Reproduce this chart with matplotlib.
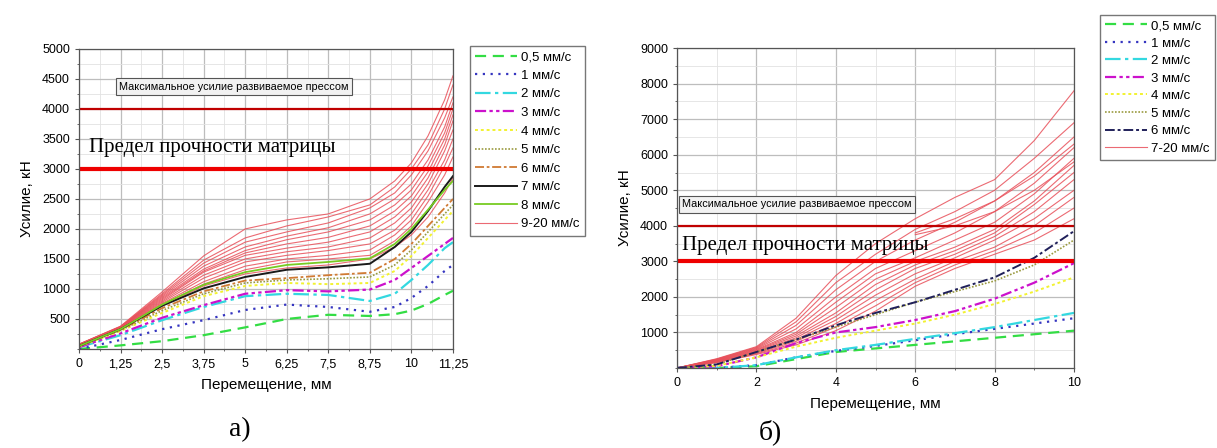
import numpy as np
import matplotlib.pyplot as plt
from matplotlib.ticker import MultipleLocator

plt.rcParams['font.family'] = ['Liberation Sans', 'DejaVu Sans']

# ---------- data, chart a) ----------
xa = [0, 1.25, 2.5, 3.75, 5, 6.25, 7.5, 8.75, 9.5, 10, 10.5, 11, 11.25]
a_05 = [0, 60, 130, 230, 360, 500, 570, 550, 580, 640, 750, 900, 970]
a_1 = [0, 150, 330, 480, 650, 740, 700, 620, 700, 850, 1050, 1300, 1400]
a_2 = [30, 230, 480, 700, 880, 920, 900, 800, 920, 1150, 1400, 1680, 1780]
a_3 = [30, 260, 520, 730, 920, 980, 960, 990, 1150, 1350, 1550, 1750, 1850]
a_4 = [40, 300, 600, 880, 1050, 1100, 1080, 1100, 1300, 1550, 1850, 2150, 2300]
a_5 = [40, 310, 640, 920, 1100, 1150, 1170, 1200, 1400, 1650, 1950, 2250, 2400]
a_6 = [50, 320, 680, 960, 1140, 1180, 1230, 1270, 1500, 1750, 2050, 2350, 2500]
a_7 = [50, 330, 720, 1010, 1200, 1320, 1360, 1420, 1700, 1950, 2300, 2700, 2880]
a_8 = [50, 330, 740, 1070, 1280, 1400, 1450, 1510, 1750, 2000, 2320, 2650, 2800]
a_red = [
    [60, 330, 720, 1050, 1250, 1350, 1400, 1500, 1700, 1900, 2200, 2600, 2850],
    [60, 340, 740, 1080, 1320, 1450, 1500, 1560, 1800, 2050, 2450, 2900, 3200],
    [65, 345, 760, 1120, 1380, 1500, 1560, 1650, 1900, 2150, 2550, 3050, 3350],
    [65, 350, 780, 1180, 1450, 1560, 1640, 1750, 1980, 2250, 2650, 3150, 3500],
    [70, 355, 800, 1230, 1500, 1620, 1700, 1850, 2100, 2350, 2750, 3300, 3650],
    [70, 360, 820, 1280, 1560, 1680, 1780, 1950, 2200, 2450, 2850, 3400, 3800],
    [70, 365, 840, 1300, 1600, 1750, 1860, 2050, 2300, 2550, 2950, 3500, 3900],
    [75, 365, 860, 1330, 1640, 1820, 1950, 2150, 2400, 2650, 3050, 3600, 4000],
    [75, 370, 880, 1380, 1700, 1880, 2020, 2250, 2500, 2750, 3150, 3700, 4100],
    [75, 370, 900, 1430, 1780, 1950, 2100, 2350, 2600, 2900, 3300, 3850, 4200],
    [80, 375, 920, 1480, 1850, 2050, 2200, 2400, 2700, 3000, 3400, 4000, 4400],
    [80, 380, 950, 1550, 2000, 2150, 2250, 2500, 2800, 3100, 3550, 4150, 4550],
]

# ---------- data, chart б) ----------
xb = [0, 1, 2, 3, 4, 5, 6, 7, 8, 9, 10]
b_05 = [0, 0, 50, 250, 450, 550, 650, 750, 850, 950, 1050]
b_1 = [0, 0, 80, 300, 480, 620, 780, 950, 1100, 1250, 1400]
b_2 = [0, 0, 80, 300, 500, 650, 820, 980, 1150, 1350, 1550]
b_3 = [0, 50, 300, 700, 1000, 1150, 1350, 1600, 1950, 2400, 2950]
b_4 = [0, 60, 300, 600, 850, 1050, 1250, 1500, 1800, 2150, 2550]
b_5 = [0, 100, 450, 800, 1150, 1500, 1850, 2150, 2450, 2900, 3600]
b_6 = [0, 100, 450, 800, 1200, 1550, 1850, 2200, 2550, 3100, 3850]
nan = np.nan
b_red = [
    [0, 260, 600, 1400, 2600, 3500, 4200, 4800, 5300, 6400, 7800],
    [0, 250, 580, 1300, 2400, 3200, 3900, 4400, 5000, 5900, 6900],
    [0, 240, 560, 1200, 2200, 3000, 3600, 4100, 4700, 5500, 6500],
    [0, 230, 540, 1100, 2000, 2800, 3300, 3800, 4400, 5200, 6200],
    [0, 220, 520, 1000, 1850, 2650, 3100, 3600, 4100, 4900, 5900],
    [0, 210, 500, 950, 1700, 2500, 3000, 3400, 3900, 4700, 5700],
    [0, 200, 480, 900, 1550, 2350, 2900, 3300, 3800, 4600, 5500],
    [0, 190, 460, 850, 1450, 2200, 2800, 3200, 3700, 4400, 5300],
    [0, 180, 440, 800, 1350, 2050, 2650, 3100, 3600, 4200, 5000],
    [0, 170, 420, 750, 1250, 1900, 2500, 3000, 3400, 4000, 4800],
    [0, 160, 400, 700, 1150, 1750, 2400, 2900, 3300, 3800, 4500],
    [0, 150, 380, 650, 1050, 1600, 2300, 2800, 3200, 3600, 4200],
    [nan, nan, nan, nan, nan, nan, 3800, 4200, 4700, 5400, 6300],
    [nan, nan, nan, nan, nan, nan, 3750, 4000, 4400, 5000, 5800],
]

# line styles for the speeds
green = dict(color='#33dd44', ls=(0, (5, 3)), lw=1.6)
blue = dict(color='#3535c0', ls=(0, (1, 2.5)), lw=1.6)
cyan = dict(color='#33d8e0', ls=(0, (7, 2, 1.5, 2)), lw=1.6)
magenta = dict(color='#cc11cc', ls=(0, (5, 1.5, 1.5, 1.5, 1.5, 1.5)), lw=1.6)
yellow = dict(color='#f2f230', ls=(0, (1.5, 1.5)), lw=1.4)
olive = dict(color='#9a9a40', ls=(0, (1, 1)), lw=1.2)
orange = dict(color='#d07a33', ls=(0, (5, 1.5, 1.5, 1.5)), lw=1.3)
navy = dict(color='#20205a', ls=(0, (5, 1.5, 1.5, 1.5)), lw=1.4)
black = dict(color='#1a1a1a', ls='-', lw=1.4)
lgreen = dict(color='#77cc22', ls='-', lw=1.3)
red = dict(color='#e8505a', ls='-', lw=0.8, alpha=0.85)

fig = plt.figure(figsize=(12.17, 4.48), dpi=100)


def style_axes(ax):
    ax.grid(which='major', color='#bdbdbd', lw=0.9)
    ax.grid(which='minor', color='#e2e2e2', lw=0.6)
    ax.set_axisbelow(True)
    for s in ax.spines.values():
        s.set_color('#555555')
        s.set_linewidth(0.9)
    ax.tick_params(which='major', labelsize=9, length=3, color='#555555')
    ax.tick_params(which='minor', length=1.5, color='#555555')


# ---------- chart a) ----------
ax1 = fig.add_axes([0.0649, 0.221, 0.3073, 0.670])
style_axes(ax1)
lines_a = [(a_05, green, '0,5 мм/с'), (a_1, blue, '1 мм/с'), (a_2, cyan, '2 мм/с'),
           (a_3, magenta, '3 мм/с'), (a_4, yellow, '4 мм/с'), (a_5, olive, '5 мм/с'),
           (a_6, orange, '6 мм/с'), (a_7, black, '7 мм/с'), (a_8, lgreen, '8 мм/с')]
for i, r in enumerate(a_red):
    ax1.plot(xa, r, label='9-20 мм/с' if i == 0 else None, **red)
handles = []
for y, st, lab in lines_a:
    h, = ax1.plot(xa, y, label=lab, **st)
    handles.append(h)
handles.append(ax1.lines[0])
ax1.axhline(4000, color='#c00000', lw=1.6)
ax1.axhline(3000, color='#ee0000', lw=3)
ax1.set_xlim(0, 11.25)
ax1.set_ylim(0, 5000)
ax1.xaxis.set_minor_locator(MultipleLocator(0.625))
ax1.yaxis.set_minor_locator(MultipleLocator(250))
ax1.set_xticks([0, 1.25, 2.5, 3.75, 5, 6.25, 7.5, 8.75, 10, 11.25])
ax1.set_xticklabels(['0', '1,25', '2,5', '3,75', '5', '6,25', '7,5', '8,75', '10', '11,25'])
ax1.set_yticks(np.arange(500, 5001, 500))
ax1.set_xlabel('Перемещение, мм', fontsize=11, labelpad=6)
ax1.set_ylabel('Усилие, кН', fontsize=11, labelpad=6)
ax1.text(1.2, 4370, 'Максимальное усилие развиваемое прессом', fontsize=7.8, va='center',
         bbox=dict(boxstyle='square,pad=0.3', fc='#f2f2f2', ec='#555555', lw=0.8))
ax1.text(0.3, 3350, 'Предел прочности матрицы', fontsize=15, va='center',
         family='Liberation Serif')
ax1.legend(handles, [h.get_label() for h in handles], loc='upper left',
           bbox_to_anchor=(1.045, 1.01), fontsize=9.5, frameon=True, fancybox=False,
           edgecolor='#555555', handlelength=3.2, handletextpad=0.3, labelspacing=0.48,
           borderpad=0.4, borderaxespad=0)

# ---------- chart б) ----------
ax2 = fig.add_axes([0.5563, 0.1786, 0.3262, 0.714])
style_axes(ax2)
lines_b = [(b_05, green, '0,5 мм/с'), (b_1, blue, '1 мм/с'), (b_2, cyan, '2 мм/с'),
           (b_3, magenta, '3 мм/с'), (b_4, yellow, '4 мм/с'), (b_5, olive, '5 мм/с'),
           (b_6, navy, '6 мм/с')]
for i, r in enumerate(b_red):
    ax2.plot(xb, r, **red)
handles2 = []
for y, st, lab in lines_b:
    h, = ax2.plot(xb, y, label=lab, **st)
    handles2.append(h)
handles2.append(ax2.lines[0])
ax2.lines[0].set_label('7-20 мм/с')
ax2.axhline(4000, color='#c00000', lw=1.6)
ax2.axhline(3000, color='#ee0000', lw=3)
ax2.set_xlim(0, 10)
ax2.set_ylim(0, 9000)
ax2.xaxis.set_major_locator(MultipleLocator(2))
ax2.xaxis.set_minor_locator(MultipleLocator(1))
ax2.yaxis.set_minor_locator(MultipleLocator(500))
ax2.set_yticks(np.arange(1000, 9001, 1000))
ax2.set_xlabel('Перемещение, мм', fontsize=11, labelpad=6)
ax2.set_ylabel('Усилие, кН', fontsize=11, labelpad=6)
ax2.text(0.12, 4600, 'Максимальное усилие развиваемое прессом', fontsize=7.8, va='center',
         bbox=dict(boxstyle='square,pad=0.3', fc='#f2f2f2', ec='#555555', lw=0.8))
ax2.text(0.12, 3450, 'Предел прочности матрицы', fontsize=15, va='center',
         family='Liberation Serif')
ax2.legend(handles2, [h.get_label() for h in handles2], loc='upper left',
           bbox_to_anchor=(1.065, 1.105), fontsize=9.5, frameon=True, fancybox=False,
           edgecolor='#555555', handlelength=3.2, handletextpad=0.3, labelspacing=0.4,
           borderpad=0.4, borderaxespad=0)

fig.text(240 / 1217, 1 - 430 / 448, 'а)', fontsize=20, family='Liberation Serif',
         ha='center', va='center')
fig.text(770 / 1217, 1 - 432 / 448, 'б)', fontsize=20, family='Liberation Serif',
         ha='center', va='center')

fig.savefig('out.png', dpi=100)
